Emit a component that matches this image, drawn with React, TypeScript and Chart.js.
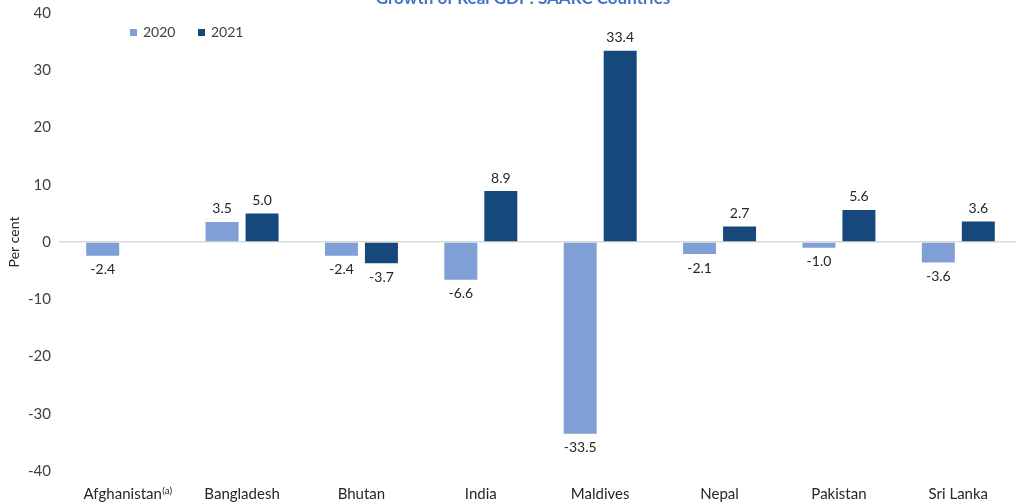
import React, { useEffect, useRef } from "react";
import { Chart, registerables } from "chart.js";

Chart.register(...registerables);

const categories = ["Afghanistan", "Bangladesh", "Bhutan", "India", "Maldives", "Nepal", "Pakistan", "Sri Lanka"];
const series2020 = [-2.4, 3.5, -2.4, -6.6, -33.5, -2.1, -1.0, -3.6];
const series2021: (number | null)[] = [null, 5.0, -3.7, 8.9, 33.4, 2.7, 5.6, 3.6];
const seriesNames = ["2020", "2021"];
const seriesColors = ["#7F9FD6", "#17487C"];
const yTicks = [-40, -30, -20, -10, 0, 10, 20, 30, 40];
const titleText = "Growth of Real GDP: SAARC Countries";
const yTitle = "Per cent";
const footnoteMark = "(a)";

const FONT = "Lato, 'Open Sans', sans-serif";

export default function App() {
  const ref = useRef<HTMLCanvasElement | null>(null);
  useEffect(() => {
    let chart: Chart | null = null;
    let cancelled = false;
    const build = () => {
      if (cancelled || !ref.current) return;
      const labelPlugin = {
        id: "extras",
        afterDatasetsDraw(c: any) {
          const ctx = c.ctx;
          ctx.save();
          ctx.font = `14px ${FONT}`;
          ctx.fillStyle = "#262626";
          ctx.textAlign = "center";
          c.data.datasets.forEach((ds: any, di: number) => {
            const meta = c.getDatasetMeta(di);
            meta.data.forEach((bar: any, i: number) => {
              const v = ds.data[i];
              if (v === null || v === undefined) return;
              if (v >= 0) {
                ctx.textBaseline = "bottom";
                ctx.fillText(v.toFixed(1), bar.x, bar.y - 6);
              } else {
                ctx.textBaseline = "top";
                ctx.fillText(v.toFixed(1), bar.x, bar.y + 7);
              }
            });
          });
          ctx.restore();
        },
        afterDraw(c: any) {
          const ctx = c.ctx;
          ctx.save();
          ctx.font = `bold 17px ${FONT}`;
          ctx.fillStyle = "#4472C4";
          ctx.textAlign = "center";
          ctx.textBaseline = "alphabetic";
          ctx.fillText(titleText, 523, 3.5);
          ctx.font = `14px ${FONT}`;
          ctx.textBaseline = "middle";
          ctx.textAlign = "left";
          const lx = [130, 198];
          seriesNames.forEach((n, i) => {
            ctx.fillStyle = seriesColors[i];
            ctx.fillRect(lx[i], 29, 7, 7);
            ctx.fillStyle = "#404040";
            ctx.fillText(n, lx[i] + 13, 32.5);
          });
          const xs = c.scales.x;
          const cx = xs.getPixelForValue(0);
          ctx.font = `15px ${FONT}`;
          const w = ctx.measureText(categories[0]).width;
          ctx.font = `10px ${FONT}`;
          ctx.fillStyle = "#262626";
          ctx.textBaseline = "alphabetic";
          ctx.fillText(footnoteMark, cx + w / 2 + 0.5, 494);
          ctx.restore();
        },
      };

      chart = new Chart(ref.current, {
        type: "bar",
        data: {
          labels: categories,
          datasets: [
            { label: seriesNames[0], data: series2020, backgroundColor: seriesColors[0], borderWidth: 0 },
            { label: seriesNames[1], data: series2021 as any, backgroundColor: seriesColors[1], borderWidth: 0 },
          ],
        },
        options: {
          responsive: false,
          animation: false,
          devicePixelRatio: 1,
          layout: { padding: { top: 13, left: 0, right: 0, bottom: 0 } },
          datasets: { bar: { categoryPercentage: 0.67, barPercentage: 0.825 } },
          plugins: {
            legend: { display: false },
            title: { display: false },
            tooltip: { enabled: false },
          },
          scales: {
            x: {
              grid: { display: false, drawTicks: false },
              border: { display: false },
              ticks: { font: { family: FONT, size: 15 }, color: "#262626", padding: 14, maxRotation: 0, autoSkip: false },
              afterFit: (s: any) => { s.height = 32; },
            },
            y: {
              min: -40,
              max: 40,
              afterBuildTicks: (s: any) => { s.ticks = yTicks.map((v) => ({ value: v })); },
              grid: {
                color: (ctx: any) => (ctx.tick && ctx.tick.value === 0 ? "#D9D9D9" : "rgba(0,0,0,0)"),
                lineWidth: 1.5,
                drawTicks: true,
                tickLength: 4,
              },
              border: { display: false },
              ticks: { font: { family: FONT, size: 15, lineHeight: 0.5 }, color: "#404040", padding: 8 },
              title: { display: true, text: yTitle, font: { family: FONT, size: 14 }, color: "#262626", padding: { top: 6, bottom: 0 } },
              afterFit: (s: any) => { s.width = 63; },
            },
          },
        },
        plugins: [labelPlugin],
      });
    };
    const fonts: any = (document as any).fonts;
    if (fonts && fonts.load) {
      Promise.all([fonts.load(`14px Lato`), fonts.load(`bold 17px Lato`)]).then(build, build);
    } else build();
    return () => {
      cancelled = true;
      if (chart) chart.destroy();
    };
  }, []);
  return (
    <div style={{ position: "fixed", left: 0, top: 0, width: 1016, height: 503, overflow: "hidden", background: "#fff" }}>
      <canvas ref={ref} width={1018} height={503} style={{ width: 1018, height: 503, display: "block" }} />
    </div>
  );
}
